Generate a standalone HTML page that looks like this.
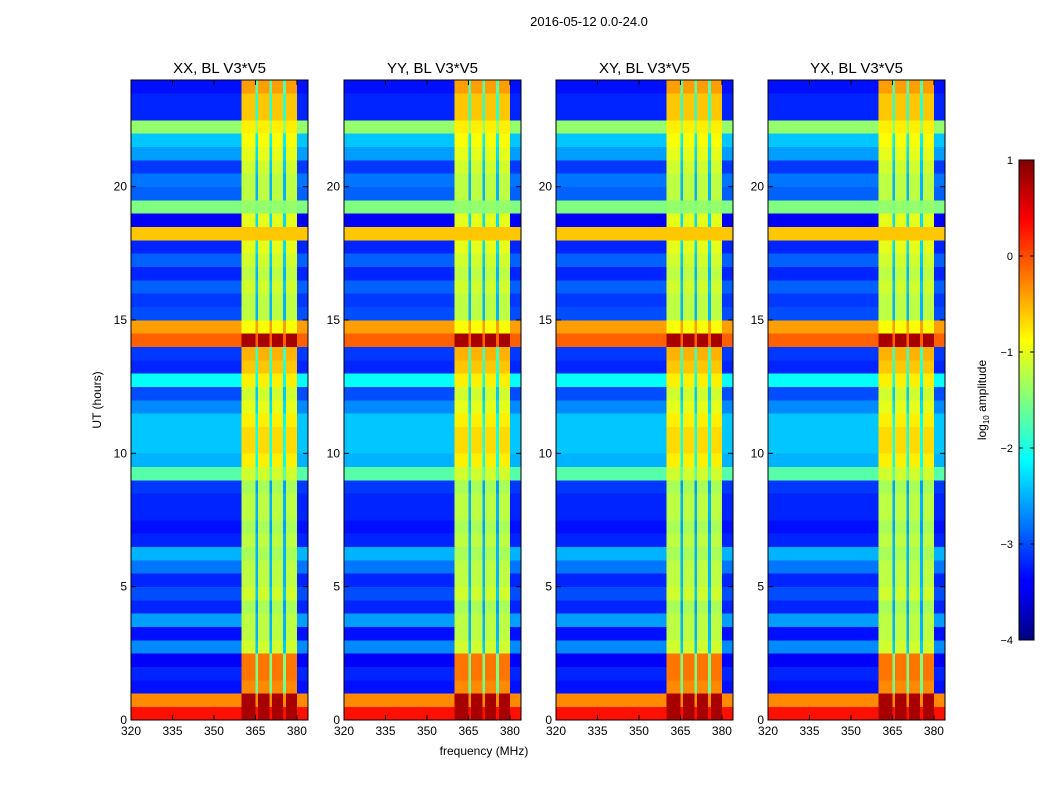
<!DOCTYPE html>
<html><head><meta charset="utf-8">
<style>
body{margin:0;background:#fff;font-family:"Liberation Sans",sans-serif;}
svg text{font-family:"Liberation Sans",sans-serif;}
</style></head>
<body>
<svg id="fig" width="1050" height="800" xmlns="http://www.w3.org/2000/svg">
<text x="589" y="26" font-size="13" text-anchor="middle">2016-05-12 0.0-24.0</text>
<text x="484" y="755" font-size="12" text-anchor="middle">frequency (MHz)</text>
<text x="101" y="400" font-size="12" text-anchor="middle" transform="rotate(-90 101 400)">UT (hours)</text>
<defs>
<linearGradient id="jet" x1="0" y1="1" x2="0" y2="0">
<stop offset="0" stop-color="#00007f"/><stop offset="0.11" stop-color="#0000ff"/>
<stop offset="0.125" stop-color="#0000ff"/><stop offset="0.375" stop-color="#00ffff"/>
<stop offset="0.625" stop-color="#ffff00"/><stop offset="0.875" stop-color="#ff0000"/>
<stop offset="1" stop-color="#7f0000"/></linearGradient>
</defs>
<g id="panels"></g>
<g>
<rect x="1019" y="160" width="15" height="480" fill="url(#jet)" stroke="#000" stroke-width="1"/>
<g id="cbticks"></g>
<text x="986" y="400" font-size="12" text-anchor="middle" transform="rotate(-90 986 400)">log<tspan font-size="8" dy="3">10</tspan><tspan dy="-3"> amplitude</tspan></text>
</g>
</svg>
<script>
const panelTitles = ["XX, BL V3*V5","YY, BL V3*V5","XY, BL V3*V5","YX, BL V3*V5"];
const xTicks = [320,335,350,365,380];
const yTicks = [0,5,10,15,20];
const cbTicks = [1,0,-1,-2,-3,-4];
// background log amplitude per 0.5 h row (0..24 h)
const rowBase = [0.3,-0.3,-3.3,-3.2,-3.4,-2.7,-3.3,-2.6,-3.2,-3.0,-3.2,-2.8,-2.5,-3.2,-3.3,-3.2,-3.2,-3.1,-1.7,-2.5,-2.4,-2.4,-2.4,-2.7,-3.0,-2.1,-3.2,-3.1,-0.1,-0.4,-3.0,-3.1,-2.9,-3.2,-2.9,-3.2,-0.6,-3.4,-1.5,-2.9,-2.8,-3.1,-2.6,-2.4,-1.4,-3.2,-3.2,-3.3];
// RFI band log amplitude per 0.5 h row
const rfiRow = [0.8,0.8,-0.3,-0.2,-0.2,-1.1,-1.2,-1.2,-1.3,-1.1,-1.2,-1.2,-1.3,-1.2,-1.3,-1.2,-1.2,-1.3,-1.1,-0.8,-0.7,-0.7,-0.8,-1.0,-1.1,-0.8,-0.6,-0.5,0.8,-0.9,-1.2,-1.2,-1.1,-1.2,-1.1,-1.0,-0.6,-1.0,-1.4,-1.2,-1.2,-1.1,-1.0,-0.9,-0.8,-0.6,-0.6,-0.4];
// column type per 1 MHz (320..383): 0 background, 1 RFI, 2 gap inside RFI
const colType = [0,0,0,0,0,0,0,0,0,0,0,0,0,0,0,0,0,0,0,0,0,0,0,0,0,0,0,0,0,0,0,0,0,0,0,0,0,0,0,0,1,1,1,1,1,2,1,1,1,1,2,1,1,1,1,2,1,1,1,1,0,0,0,0];
const freqStart = 320, freqEnd = 384, hourEnd = 24;
const panelX = [131,344,556,768], panelW = 177, panelTop = 80, panelH = 640;
const NS = "http://www.w3.org/2000/svg";
function jet(v){
  let t = Math.max(0,Math.min(1,(v+4)/5));
  const f=(a)=>Math.max(0,Math.min(1,1.5-Math.abs(4*t-a)));
  return `rgb(${Math.round(255*f(3))},${Math.round(255*f(2))},${Math.round(255*f(1))})`;
}
function mk(tag, attrs, parent){const e=document.createElementNS(NS,tag);for(const k in attrs)e.setAttribute(k,attrs[k]);parent.appendChild(e);return e;}
const root = document.getElementById('panels');
panelTitles.forEach((title,p)=>{
  const x0 = panelX[p];
  const xs = f => x0 + (f-freqStart)/(freqEnd-freqStart)*panelW;
  const ys = h => panelTop + panelH - h/hourEnd*panelH;
  const g = mk('g',{},root);
  
  
  const hm = mk('g',{'shape-rendering':'crispEdges'},g);
  
  
  rowBase.forEach((b,r)=>{
    colType.forEach((ct,c)=>{
      let v = ct===1 ? rfiRow[r] : (ct===2 ? Math.max(b, rfiRow[r]-1.3) : b);
      const f = freqStart+c, h = r*0.5;
      const rect = mk('rect',{x:xs(f),y:ys(h+0.5),width:xs(f+1)-xs(f)+0.3,height:ys(h)-ys(h+0.5)+0.3,fill:jet(v)},hm);
      
      
    });
  });
  const fr = mk('rect',{x:x0,y:panelTop,width:panelW,height:panelH,fill:'none',stroke:'#000','stroke-width':1},g);
  
  
  const t = mk('text',{x:x0+panelW/2,y:73,'font-size':15,'text-anchor':'middle'},g);
  t.textContent = title;
  
  
  xTicks.forEach(v=>{
    const x = xs(v);
    mk('line',{x1:x,x2:x,y1:panelTop+panelH,y2:panelTop+panelH-5,stroke:'#000'},g);
    mk('line',{x1:x,x2:x,y1:panelTop,y2:panelTop+5,stroke:'#000'},g);
    const tl = mk('text',{x:x,y:735,'font-size':12,'text-anchor':'middle'},g);
    tl.textContent = v;
    
    
  });
  yTicks.forEach(v=>{
    const y = ys(v);
    mk('line',{x1:x0,x2:x0+5,y1:y,y2:y,stroke:'#000'},g);
    mk('line',{x1:x0+panelW,x2:x0+panelW-5,y1:y,y2:y,stroke:'#000'},g);
    const tl = mk('text',{x:x0-4,y:y+4,'font-size':12,'text-anchor':'end'},g);
    tl.textContent = v;
    
    
  });
});
const cb = document.getElementById('cbticks');
cbTicks.forEach(v=>{
  const y = 160 + (1-v)/5*480;
  mk('line',{x1:1019,x2:1023,y1:y,y2:y,stroke:'#000'},cb);
  mk('line',{x1:1034,x2:1030,y1:y,y2:y,stroke:'#000'},cb);
  const tl = mk('text',{x:1013,y:y+4,'font-size':11,'text-anchor':'end'},cb);
  tl.textContent = v<0 ? '\u2212'+(-v) : v;
  
  
});
</script>
</body></html>
